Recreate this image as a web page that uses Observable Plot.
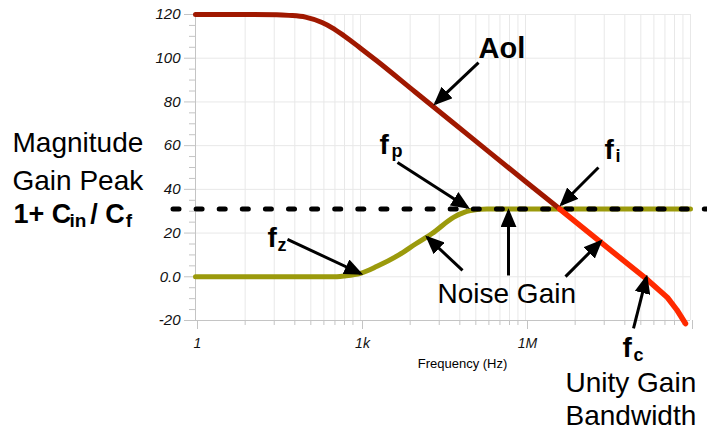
<!DOCTYPE html>
<html>
<head>
<meta charset="utf-8">
<script src="https://cdn.jsdelivr.net/npm/d3@7"></script>
<script src="https://cdn.jsdelivr.net/npm/@observablehq/plot@0.6"></script>
<style>
  html, body { margin: 0; padding: 0; background: #fff; }
</style>
</head>
<body>
<div id="chart"></div>
<script>
// Open-loop gain Aol (dB) up to the intercept fi
const aolFreq = [1, 10, 30, 50, 100, 200, 300, 500, 1e3, 2e3, 1e4, 1e5, 1e6, 4.2e6];
const aolGain = [120, 120, 119.9, 119.6, 118.8, 116.3, 114.0, 110.3, 104.6, 98.7, 84.4, 64.0, 43.6, 31];
// Aol beyond fi, down through the unity-gain crossing fc
const aolHighFreq = [4.2e6, 1e7, 1e8, 1.5e8, 3.8e8, 5.6e8, 8.1e8];
const aolHighGain = [31, 23.3, 3.0, -0.5, -9.5, -15, -21.4];
// Noise gain: zero at fz, pole at fp, flat at 1 + Cin/Cf
const ngFreq = [1, 100, 300, 500, 1e3, 2e3, 5e3, 1e4, 2e4, 5e4, 1e5, 2e5, 1e6, 1e9];
const ngGain = [0, 0, 0, 0.4, 1.6, 4.8, 10, 15, 19.8, 27.3, 30.3, 31, 31, 31];
// Gain peak level 1 + Cin/Cf
const peakFreq = [0.39, 1e10];
const peakGain = [31, 31];

// Axis ticks
const xMajor = [1, 1e3, 1e6, 1e9];
const xMajorLabels = ["1", "1k", "1M", ""];
const xMinorSteps = [8, 27, 64, 125, 216, 343, 512, 729];
const yMajor = [-20, 0, 20, 40, 60, 80, 100, 120];
const yMajorLabels = ["-20", "0.0", "20", "40", "60", "80", "100", "120"];
const yMinor = d3.range(-20, 121, 5).filter(v => v % 20 !== 0);

// Callout arrows: tail (x1, y1) -> head (x2, y2), in Hz and dB
const arrows = [
  {x1: 1.40e5, y1: 98.0, x2: 2.31e4, y2: 79.3},   // Aol
  {x1: 4.71e3, y1: 52.3, x2: 8.82e4, y2: 31.7},   // fp
  {x1: 2.12e7, y1: 50.0, x2: 4.51e6, y2: 33.1},   // fi
  {x1: 47,     y1: 17.1, x2: 1000,   y2: 1.5},    // fz
  {x1: 7.16e4, y1: 2.9,  x2: 1.65e4, y2: 18.0},   // noise gain, rising part
  {x1: 4.91e5, y1: 0.6,  x2: 4.91e5, y2: 30.0},   // noise gain, flat part
  {x1: 5.34e6, y1: 0.1,  x2: 2.31e7, y2: 16.1},   // noise gain above fi
  {x1: 9.2e7,  y1: -23.6, x2: 1.58e8, y2: -0.3}   // fc
];

// Regular labels (left edge, baseline)
const plainLabels = [
  {t: "Noise Gain", f: 2.51e4, db: -11.8},
  {t: "Unity Gain", f: 5.34e6, db: -52.9},
  {t: "Bandwidth",  f: 5.34e6, db: -68.0},
  {t: "Magnitude",  f: 4.71e-4, db: 56.9},
  {t: "Gain Peak",  f: 4.71e-4, db: 39.5}
];
// Bold labels with their subscripts
const boldLabels = [
  {t: "Aol", f: 1.40e5, db: 100.3, s: 29},
  {t: "f", f: 2.21e3, db: 56.4, s: 28}, {t: "p", f: 3.66e3, db: 54.6, s: 18},
  {t: "f", f: 2.73e7, db: 54.1, s: 28}, {t: "i", f: 4.33e7, db: 52.3, s: 18},
  {t: "f", f: 20.4,   db: 13.4, s: 28}, {t: "z", f: 31,     db: 11.6, s: 18},
  {t: "f", f: 5.8e7,  db: -36.9, s: 28}, {t: "c", f: 9.2e7, db: -38.7, s: 18},
  {t: "1+ C", f: 4.91e-4, db: 24.8, s: 27}, {t: "in", f: 5.12e-3, db: 22.6, s: 19},
  {t: "/ C",  f: 1.22e-2, db: 24.8, s: 27}, {t: "f",  f: 5.4e-2, db: 22.6, s: 19}
];
const axisTitle = [{t: "Frequency (Hz)", f: 7.16e4, db: -41.9}];

const zip = (xs, ys) => xs.map((f, i) => ({f, db: ys[i]}));
const aol = zip(aolFreq, aolGain);
const aolHigh = zip(aolHighFreq, aolHighGain);
const noiseGain = zip(ngFreq, ngGain);
const peak = zip(peakFreq, peakGain);
const xMinor = xMajor.slice(0, 3).flatMap(d => xMinorSteps.map(s => d * s));

const gridColor = "#e8e8e8";
const axisColor = "#c4c4c4";

const plot = Plot.plot({
  width: 707,
  height: 432,
  marginLeft: 195,
  marginRight: 17,
  marginTop: 14,
  marginBottom: 112,
  x: {type: "log", domain: [1, 1e9]},
  y: {domain: [-20, 120]},
  style: {fontFamily: '"Liberation Sans", Arial, sans-serif', background: "#fff", color: "#000"},
  marks: [
    Plot.ruleX([...xMajor, ...xMinor], {stroke: gridColor}),
    Plot.ruleY(yMajor, {stroke: gridColor}),
    Plot.ruleX([1], {stroke: axisColor}),
    Plot.ruleY([-20], {stroke: axisColor}),
    Plot.axisX({ticks: xMinor, tickSize: 5, tickFormat: () => "", stroke: axisColor, label: null}),
    Plot.axisX({ticks: xMajor, tickSize: 9, tickPadding: 9, tickFormat: d => xMajorLabels[xMajor.indexOf(d)],
      fontSize: 14, fontStyle: "italic", stroke: axisColor, fill: "#111", dx: 2, label: null}),
    Plot.axisY({ticks: yMinor, tickSize: 6, tickFormat: () => "", stroke: axisColor, label: null}),
    Plot.axisY({ticks: yMajor, tickSize: 11, tickPadding: 4, tickFormat: d => yMajorLabels[yMajor.indexOf(d)],
      fontSize: 15, fontStyle: "italic", stroke: axisColor, fill: "#111", label: null}),

    Plot.line(noiseGain, {x: "f", y: "db", stroke: "#9b9a0c", strokeWidth: 5, curve: "monotone-x",
      strokeLinecap: "round", strokeLinejoin: "round"}),
    Plot.line(peak, {x: "f", y: "db", stroke: "#000", strokeWidth: 5, strokeDasharray: "6 17.1",
      strokeLinecap: "round"}),
    Plot.line(aol, {x: "f", y: "db", stroke: "#a01800", strokeWidth: 5, curve: "monotone-x",
      strokeLinecap: "round", strokeLinejoin: "round"}),
    Plot.line(aolHigh, {x: "f", y: "db", stroke: "#ff2a00", strokeWidth: 5.5,
      strokeLinecap: "round", strokeLinejoin: "round"}),

    Plot.link(arrows, {x1: "x1", y1: "y1", x2: "x2", y2: "y2", stroke: "#000", strokeWidth: 3}),

    Plot.text(plainLabels, {x: "f", y: "db", text: "t", fontSize: 28, textAnchor: "start", lineAnchor: "bottom", fill: "#000"}),
    Plot.text(boldLabels, {x: "f", y: "db", text: "t", fontSize: "s", fontWeight: "bold", textAnchor: "start", lineAnchor: "bottom", fill: "#000"}),
    Plot.text(axisTitle, {x: "f", y: "db", text: "t", fontSize: 13, textAnchor: "middle", lineAnchor: "bottom", fill: "#000"})
  ]
});

// Solid triangular heads for the callout arrows
const svg = d3.select(plot);
svg.append("defs").append("marker")
  .attr("id", "arrowhead")
  .attr("viewBox", "-16 -8 19 16")
  .attr("refX", 0).attr("refY", 0)
  .attr("markerWidth", 19).attr("markerHeight", 16)
  .attr("markerUnits", "userSpaceOnUse")
  .attr("orient", "auto")
  .append("path").attr("d", "M3,0L-16,-8L-16,8Z").attr("fill", "#000");
svg.selectAll('g[aria-label="link"] path, g[aria-label="link"] line').attr("marker-end", "url(#arrowhead)");

document.getElementById("chart").appendChild(plot);
</script>
</body>
</html>
